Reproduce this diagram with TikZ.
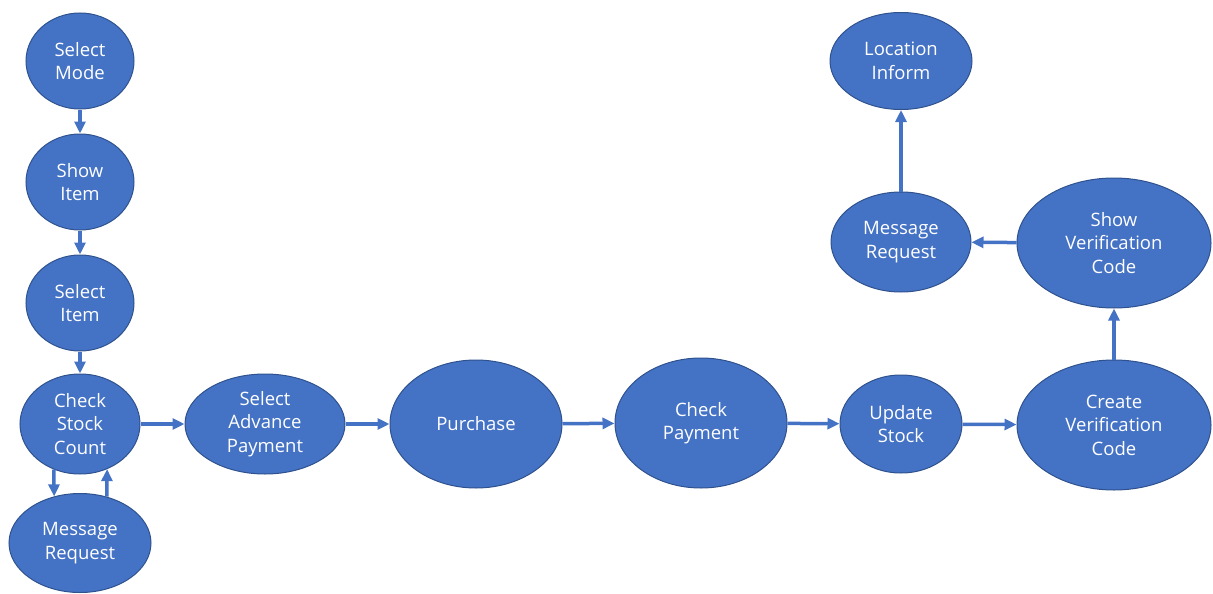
\documentclass[tikz,border=0pt]{standalone}
\usepackage{fontspec}
\setmainfont{Open Sans}
\usetikzlibrary{shapes.geometric,arrows.meta}
\definecolor{stepfill}{HTML}{4472C4}
\definecolor{stepline}{HTML}{2F528F}
\tikzset{
	state/.style={ellipse,draw=stepline,line width=1pt,fill=stepfill,text=white,align=center,inner sep=0pt,
		font=\fontsize{18.5}{23.5}\selectfont},
	flow/.style={draw=stepfill,line width=3.5pt,-{Triangle[length=12pt,width=11pt]}}
}
\begin{document}
\begin{tikzpicture}[x=1pt,y=-1pt]
		\useasboundingbox (0,0) rectangle (1213,594);
		\node[state,minimum width=108,minimum height=96] (selmode) at (80,61) {Select\\Mode};
		\node[state,minimum width=108,minimum height=96] (showitem) at (80,182) {Show\\Item};
		\node[state,minimum width=108,minimum height=96] (selitem) at (80,303) {Select\\Item};
		\node[state,minimum width=120,minimum height=100] (stock) at (80,424) {Check\\Stock\\Count};
		\node[state,minimum width=142,minimum height=99] (msgA) at (80,543) {Message\\Request};
		\node[state,minimum width=160,minimum height=100] (advance) at (265,424) {Select\\Advance\\Payment};
		\node[state,minimum width=172,minimum height=128] (purchase) at (476,424) {Purchase};
		\node[state,minimum width=172,minimum height=130] (payment) at (701,423) {Check\\Payment};
		\node[state,minimum width=122,minimum height=98] (update) at (901,424) {Update\\Stock};
		\node[state,minimum width=194,minimum height=130] (create) at (1114,425) {Create\\Verification\\Code};
		\node[state,minimum width=194,minimum height=130] (showcode) at (1114,243) {Show\\Verification\\Code};
		\node[state,minimum width=140,minimum height=100] (msgB) at (901,242) {Message\\Request};
		\node[state,minimum width=142,minimum height=97] (location) at (901,61) {Location\\Inform};
		% vertical chain on the left
		\draw[flow] (selmode) -- (showitem);
		\draw[flow] (showitem) -- (selitem);
		\draw[flow] (selitem) -- (stock);
		\draw[flow] (stock.240) -- (msgA.119);
		\draw[flow] (msgA.60) -- (stock.301);
		% main row
		\draw[flow] (stock) -- (advance);
		\draw[flow] (advance) -- (purchase);
		\draw[flow] (purchase) -- (payment);
		\draw[flow] (payment) -- (update);
		\draw[flow] (update) -- (create);
		% right column
		\draw[flow] (create) -- (showcode);
		\draw[flow] (showcode) -- (msgB);
		\draw[flow] (msgB) -- (location);
	\end{tikzpicture}
\end{document}
